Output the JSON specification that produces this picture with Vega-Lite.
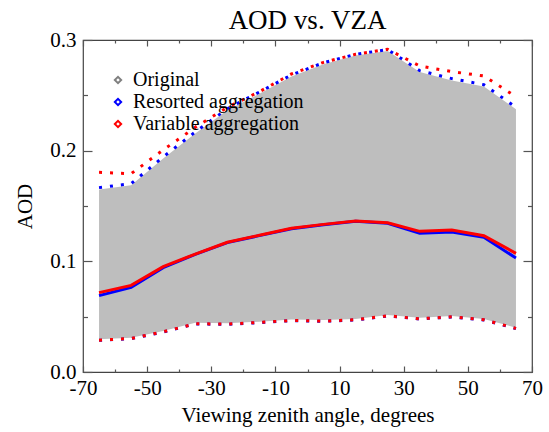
{
  "$schema": "https://vega.github.io/schema/vega-lite/v6.json",
  "width": 449,
  "height": 332,
  "autosize": {"type": "none"},
  "padding": {"left": 83, "top": 40, "right": 17, "bottom": 60},
  "background": "white",
  "config": {
    "view": {"stroke": "#444", "strokeWidth": 1.2},
    "font": "Liberation Serif",
    "axis": {"labelFont": "Liberation Serif", "titleFont": "Liberation Serif", "labelColor": "black", "titleColor": "black", "titleFontWeight": "normal", "tickColor": "#555", "tickWidth": 1.2, "domain": false, "grid": false, "labelFlush": false, "labelOverlap": false},
    "legend": {"labelFont": "Liberation Serif"}
  },
  "title": {"text": "AOD vs. VZA", "font": "Liberation Serif", "fontSize": 27, "fontWeight": "normal", "anchor": "middle", "baseline": "alphabetic", "offset": 11, "dy": 38, "color": "black"},
  "data": {
    "values": [
      {"vza": -65, "group": "Original", "lo": 0.0295, "mean": 0.070, "hi": 0.1648},
      {"vza": -55, "group": "Original", "lo": 0.0310, "mean": 0.077, "hi": 0.1688},
      {"vza": -45, "group": "Original", "lo": 0.0370, "mean": 0.095, "hi": 0.1930},
      {"vza": -35, "group": "Original", "lo": 0.0445, "mean": 0.106, "hi": 0.2155},
      {"vza": -25, "group": "Original", "lo": 0.0440, "mean": 0.117, "hi": 0.2365},
      {"vza": -15, "group": "Original", "lo": 0.0455, "mean": 0.123, "hi": 0.2515},
      {"vza": -5, "group": "Original", "lo": 0.0475, "mean": 0.130, "hi": 0.2670},
      {"vza": 5, "group": "Original", "lo": 0.0470, "mean": 0.133, "hi": 0.2780},
      {"vza": 15, "group": "Original", "lo": 0.0480, "mean": 0.136, "hi": 0.2860},
      {"vza": 25, "group": "Original", "lo": 0.0515, "mean": 0.134, "hi": 0.2900},
      {"vza": 35, "group": "Original", "lo": 0.0490, "mean": 0.126, "hi": 0.2710},
      {"vza": 45, "group": "Original", "lo": 0.0505, "mean": 0.127, "hi": 0.2635},
      {"vza": 55, "group": "Original", "lo": 0.0480, "mean": 0.122, "hi": 0.2580},
      {"vza": 65, "group": "Original", "lo": 0.0400, "mean": 0.105, "hi": 0.2375},
      {"vza": -65, "group": "Resorted aggregation", "lo": 0.0286, "mean": 0.0690, "hi": 0.1666},
      {"vza": -55, "group": "Resorted aggregation", "lo": 0.0301, "mean": 0.0765, "hi": 0.1702},
      {"vza": -45, "group": "Resorted aggregation", "lo": 0.0361, "mean": 0.0943, "hi": 0.1943},
      {"vza": -35, "group": "Resorted aggregation", "lo": 0.0434, "mean": 0.1063, "hi": 0.2169},
      {"vza": -25, "group": "Resorted aggregation", "lo": 0.0431, "mean": 0.1169, "hi": 0.2379},
      {"vza": -15, "group": "Resorted aggregation", "lo": 0.0446, "mean": 0.1232, "hi": 0.2530},
      {"vza": -5, "group": "Resorted aggregation", "lo": 0.0464, "mean": 0.1295, "hi": 0.2684},
      {"vza": 5, "group": "Resorted aggregation", "lo": 0.0458, "mean": 0.1331, "hi": 0.2795},
      {"vza": 15, "group": "Resorted aggregation", "lo": 0.0470, "mean": 0.1362, "hi": 0.2871},
      {"vza": 25, "group": "Resorted aggregation", "lo": 0.0506, "mean": 0.1344, "hi": 0.2913},
      {"vza": 35, "group": "Resorted aggregation", "lo": 0.0479, "mean": 0.1253, "hi": 0.2723},
      {"vza": 45, "group": "Resorted aggregation", "lo": 0.0497, "mean": 0.1265, "hi": 0.2651},
      {"vza": 55, "group": "Resorted aggregation", "lo": 0.0470, "mean": 0.1217, "hi": 0.2596},
      {"vza": 65, "group": "Resorted aggregation", "lo": 0.0392, "mean": 0.1030, "hi": 0.2392},
      {"vza": -65, "group": "Variable aggregation", "lo": 0.0288, "mean": 0.0717, "hi": 0.1804},
      {"vza": -55, "group": "Variable aggregation", "lo": 0.0303, "mean": 0.0783, "hi": 0.1792},
      {"vza": -45, "group": "Variable aggregation", "lo": 0.0363, "mean": 0.0952, "hi": 0.2006},
      {"vza": -35, "group": "Variable aggregation", "lo": 0.0436, "mean": 0.1066, "hi": 0.2211},
      {"vza": -25, "group": "Variable aggregation", "lo": 0.0433, "mean": 0.1172, "hi": 0.2392},
      {"vza": -15, "group": "Variable aggregation", "lo": 0.0448, "mean": 0.1235, "hi": 0.2533},
      {"vza": -5, "group": "Variable aggregation", "lo": 0.0466, "mean": 0.1298, "hi": 0.2693},
      {"vza": 5, "group": "Variable aggregation", "lo": 0.0460, "mean": 0.1334, "hi": 0.2798},
      {"vza": 15, "group": "Variable aggregation", "lo": 0.0472, "mean": 0.1364, "hi": 0.2871},
      {"vza": 25, "group": "Variable aggregation", "lo": 0.0508, "mean": 0.1349, "hi": 0.2916},
      {"vza": 35, "group": "Variable aggregation", "lo": 0.0481, "mean": 0.1271, "hi": 0.2765},
      {"vza": 45, "group": "Variable aggregation", "lo": 0.0499, "mean": 0.1283, "hi": 0.2714},
      {"vza": 55, "group": "Variable aggregation", "lo": 0.0472, "mean": 0.1232, "hi": 0.2675},
      {"vza": 65, "group": "Variable aggregation", "lo": 0.0394, "mean": 0.1072, "hi": 0.2488}
    ]
  },
  "resolve": {"axis": {"x": "independent", "y": "independent"}},
  "layer": [
    {
      "transform": [{"filter": "datum.group == 'Original'"}],
      "mark": {"type": "area", "color": "#bebebe", "opacity": 1},
      "encoding": {
        "x": {"field": "vza", "type": "quantitative", "scale": {"domain": [-70, 70], "nice": false, "zero": false},
          "axis": {"orient": "bottom", "values": [-70, -60, -50, -40, -30, -20, -10, 0, 10, 20, 30, 40, 50, 60, 70],
            "labelExpr": "abs(datum.value) % 20 == 10 ? '' + datum.value : ''",
            "tickSize": {"condition": {"test": "abs(datum.value) % 20 == 10", "value": -6}, "value": -3},
            "labelFont": "Liberation Serif", "labelFontSize": 21, "labelPadding": 11, "title": "Viewing zenith angle, degrees", "titleFont": "Liberation Serif", "titleFontSize": 21, "titlePadding": 3}},
        "y": {"field": "lo", "type": "quantitative", "scale": {"domain": [0, 0.3], "nice": false},
          "axis": {"orient": "left", "values": [0, 0.05, 0.1, 0.15, 0.2, 0.25, 0.3],
            "labelExpr": "round(datum.value * 100) % 10 == 0 ? format(datum.value, '.1f') : ''",
            "tickSize": {"condition": {"test": "round(datum.value * 100) % 10 == 0", "value": -9}, "value": -4.5},
            "labelFont": "Liberation Serif", "labelFontSize": 21, "labelPadding": 16, "title": "AOD", "titleFont": "Liberation Serif", "titleFontSize": 21, "titlePadding": 14}},
        "y2": {"field": "hi"}
      }
    },
    {
      "transform": [{"filter": "datum.group != 'Original'"}],
      "mark": {"type": "line", "strokeWidth": 3, "strokeDash": [3, 8], "strokeCap": "butt"},
      "encoding": {
        "x": {"field": "vza", "type": "quantitative", "axis": null},
        "y": {"field": "hi", "type": "quantitative", "axis": null},
        "color": {"field": "group", "type": "nominal",
          "scale": {"domain": ["Original", "Resorted aggregation", "Variable aggregation"], "range": ["#808080", "#0000ff", "#ff0000"]},
          "legend": {"orient": "top-left", "offset": 30, "title": null, "padding": 0,
            "symbolType": "diamond", "symbolSize": 40, "symbolStrokeWidth": 2, "symbolFillColor": "white", "symbolDash": [], "symbolOffset": -5,
            "labelFont": "Liberation Serif", "labelFontSize": 20, "labelColor": "black", "labelOffset": 5, "labelLimit": 400, "rowPadding": 2}}
      }
    },
    {
      "transform": [{"filter": "datum.group != 'Original'"}],
      "mark": {"type": "line", "strokeWidth": 3, "strokeDash": [3, 8], "strokeCap": "butt"},
      "encoding": {
        "x": {"field": "vza", "type": "quantitative", "axis": null},
        "y": {"field": "lo", "type": "quantitative", "axis": null},
        "color": {"field": "group", "type": "nominal"}
      }
    },
    {
      "transform": [{"filter": "datum.group != 'Original'"}],
      "mark": {"type": "line", "strokeWidth": 3},
      "encoding": {
        "x": {"field": "vza", "type": "quantitative", "axis": null},
        "y": {"field": "mean", "type": "quantitative", "axis": null},
        "color": {"field": "group", "type": "nominal"}
      }
    },
    {
      "transform": [{"filter": "datum.group == 'Original'"}],
      "mark": {"type": "line", "strokeOpacity": 0},
      "encoding": {
        "x": {"field": "vza", "type": "quantitative",
          "axis": {"orient": "top", "values": [-70, -60, -50, -40, -30, -20, -10, 0, 10, 20, 30, 40, 50, 60, 70], "labels": false, "title": null,
            "tickSize": {"condition": {"test": "abs(datum.value) % 20 == 10", "value": -6}, "value": -3}}},
        "y": {"field": "hi", "type": "quantitative",
          "axis": {"orient": "right", "values": [0, 0.05, 0.1, 0.15, 0.2, 0.25, 0.3], "labels": false, "title": null,
            "tickSize": {"condition": {"test": "round(datum.value * 100) % 10 == 0", "value": -9}, "value": -4.5}}}
      }
    }
  ]
}
